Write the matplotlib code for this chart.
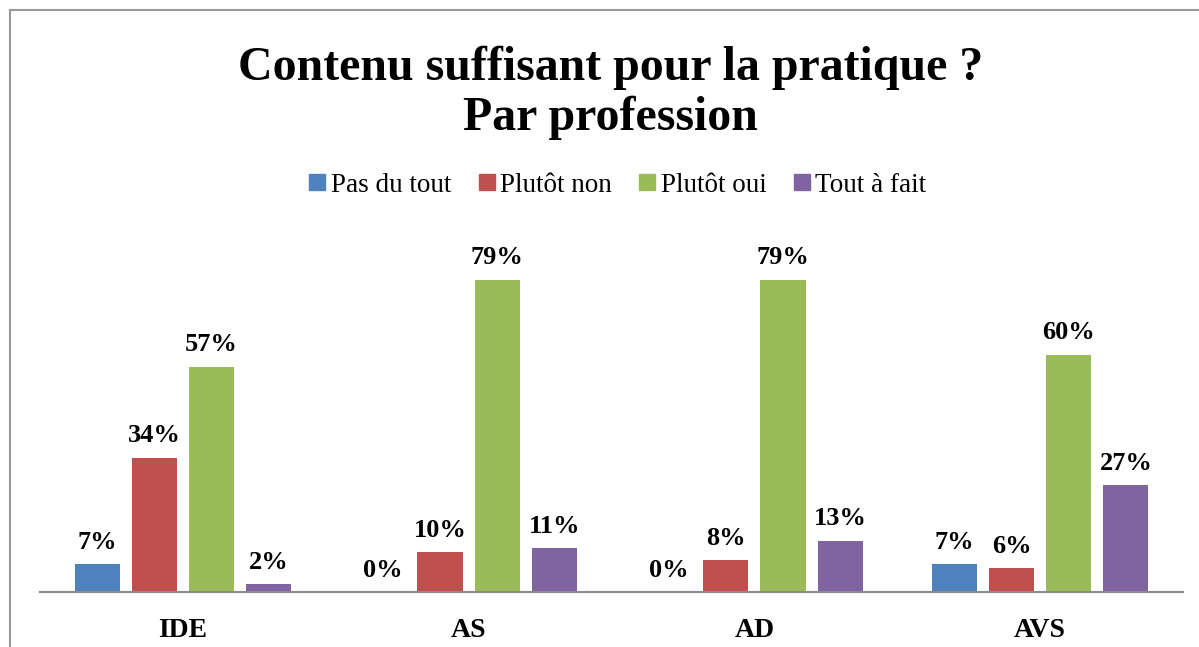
import numpy as np
import matplotlib.pyplot as plt
from matplotlib.lines import Line2D

plt.rcParams['font.family'] = ['Liberation Serif', 'DejaVu Serif']

categories = ['IDE', 'AS', 'AD', 'AVS']
series_names = ['Pas du tout', 'Plutôt non', 'Plutôt oui', 'Tout à fait']
values = [
    [7, 0, 0, 7],      # Pas du tout
    [34, 10, 8, 6],    # Plutôt non
    [57, 79, 79, 60],  # Plutôt oui
    [2, 11, 13, 27],   # Tout à fait
]
colors = ['#4F81BD', '#C0504D', '#9BBB59', '#8064A2']

fig = plt.figure(figsize=(11.99, 6.47), dpi=100)
ax = fig.add_axes([40 / 1199, 55 / 647, 1143 / 1199, 356 / 647])

x = np.arange(len(categories))
step = 0.2
width = 0.158
for i, (name, vals) in enumerate(zip(series_names, values)):
    pos = x + (i - 1.5) * step
    ax.bar(pos, vals, width=width, color=colors[i], label=name, zorder=2)
    for px, v in zip(pos, vals):
        ax.text(px, v + 2.6, f'{v}%', ha='center', va='bottom',
                fontsize=19, fontweight='bold')

ax.set_xlim(-0.5, 3.5)
ax.set_ylim(0, 90)
ax.set_xticks(x)
ax.set_xticklabels(categories, fontsize=20, fontweight='bold')
ax.tick_params(axis='x', length=0, pad=19)
ax.set_yticks([])
for s in ['top', 'right', 'left']:
    ax.spines[s].set_visible(False)
ax.spines['bottom'].set_color('#8c8c8c')
ax.spines['bottom'].set_linewidth(1.5)

fig.text(0.509, 0.856, 'Contenu suffisant pour la pratique ?\nPar profession',
         ha='center', va='center', fontsize=34.5, fontweight='bold', linespacing=1.17)

handles = [Line2D([], [], marker='s', linestyle='None', markersize=11,
                  markerfacecolor=c, markeredgecolor=c) for c in colors]
fig.legend(handles, series_names, loc='center', bbox_to_anchor=(0.513, 0.714),
           ncol=4, frameon=False, fontsize=19.5, handletextpad=0.0,
           columnspacing=0.8, handlelength=1.0)

# outer chart border (only left and top visible in the crop)
fig.add_artist(Line2D([10 / 1199, 10 / 1199], [0, 1 - 10 / 647],
                      transform=fig.transFigure, color='#999999', lw=1.5))
fig.add_artist(Line2D([10 / 1199, 1], [1 - 10 / 647, 1 - 10 / 647],
                      transform=fig.transFigure, color='#999999', lw=1.5))

fig.savefig('out.png', dpi=100)
